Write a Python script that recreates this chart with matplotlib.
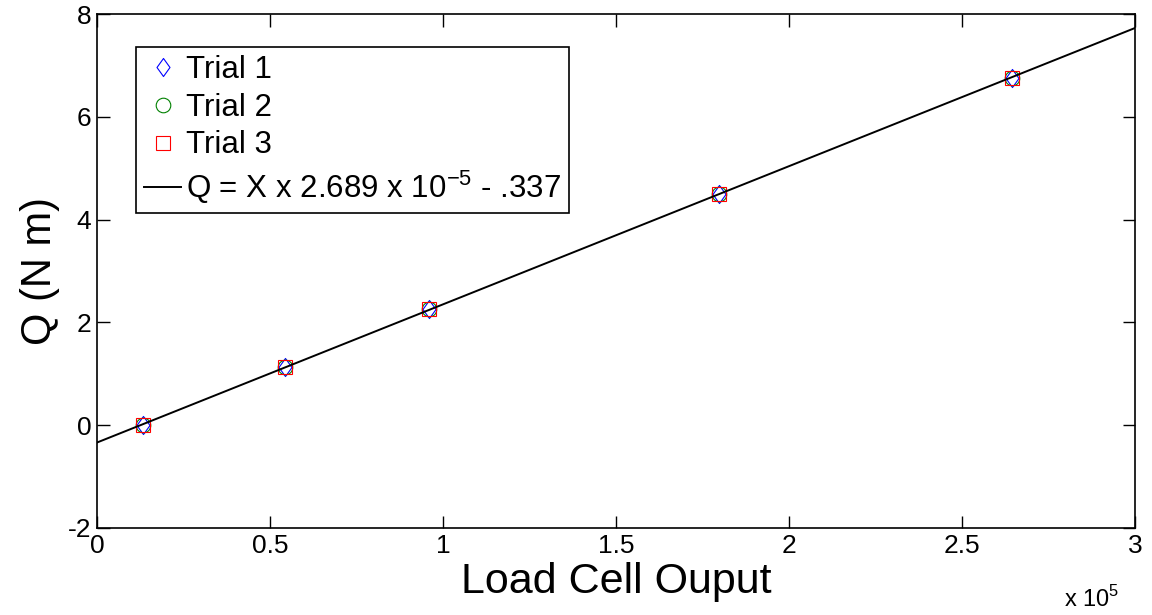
import matplotlib.pyplot as plt
import numpy as np
from matplotlib.path import Path

plt.rcParams['font.family'] = ['Liberation Sans', 'DejaVu Sans']
plt.rcParams['axes.unicode_minus'] = False
plt.rcParams['mathtext.fontset'] = 'custom'
plt.rcParams['mathtext.rm'] = 'Liberation Sans'

# load cell output (raw counts) and measured torque for each trial
x_trial1 = [13300, 54300, 96000, 179800, 264400]
q_trial1 = [0.00, 1.13, 2.26, 4.50, 6.76]
x_trial2 = [13300, 54300, 96000, 179800, 264400]
q_trial2 = [0.00, 1.13, 2.26, 4.50, 6.76]
x_trial3 = [13300, 54300, 96000, 179800, 264400]
q_trial3 = [0.00, 1.13, 2.26, 4.50, 6.76]

# linear fit Q = X * 2.689e-5 - 0.337
slope = 2.689e-5
intercept = -0.337
x_fit = np.array([0, 300000])

x_ticks = [0, 50000, 100000, 150000, 200000, 250000, 300000]
x_ticklabels = ['0', '0.5', '1', '1.5', '2', '2.5', '3']
y_ticks = [-2, 0, 2, 4, 6, 8]

# matlab-style diamond (a bit wider than mpl's thin diamond)
diamond = Path([(0, 1), (0.72, 0), (0, -1), (-0.72, 0), (0, 1)],
               [Path.MOVETO, Path.LINETO, Path.LINETO, Path.LINETO, Path.CLOSEPOLY])

fig = plt.figure(figsize=(11.52, 6.15), dpi=100)
ax = fig.add_axes([0.0842, 0.1415, 0.9010, 0.8355])

ax.plot(x_trial1, q_trial1, ls='none', marker=diamond, mfc='none', mec='blue',
        ms=13, mew=0.8, label='Trial 1')
ax.plot(x_trial2, q_trial2, 'o', mfc='none', mec='green', ms=10.5, mew=0.8, label='Trial 2')
ax.plot(x_trial3, q_trial3, 's', mfc='none', mec='red', ms=10, mew=0.8, label='Trial 3')
ax.plot(x_fit, x_fit * slope + intercept, 'k-', lw=1.4,
        label=r'Q = X x 2.689 x 10$^{\mathrm{-5}}$ - .337')

ax.set_xlim(0, 300000)
ax.set_ylim(-2, 8)
ax.set_xticks(x_ticks)
ax.set_xticklabels(x_ticklabels)
ax.set_yticks(y_ticks)
ax.tick_params(direction='in', length=9, width=1, labelsize=19,
               top=True, right=True, pad=4)
for s in ax.spines.values():
    s.set_linewidth(1.2)

ax.set_xlabel('Load Cell Ouput', fontsize=31, labelpad=3)
ax.set_ylabel('Q (N m)', fontsize=30, labelpad=6)
ax.text(0.985, -0.112, r'x 10$^{\mathrm{5}}$', transform=ax.transAxes, fontsize=17,
        ha='right', va='top')

leg = ax.legend(loc='upper left', bbox_to_anchor=(0.0376, 0.936), borderaxespad=0,
                fontsize=22.5, frameon=True, fancybox=False,
                edgecolor='black', framealpha=1,
                handlelength=1.2, handletextpad=0.15, labelspacing=0.25,
                borderpad=0.25)
leg.get_frame().set_linewidth(1.2)

fig.savefig('out.png', dpi=100)
